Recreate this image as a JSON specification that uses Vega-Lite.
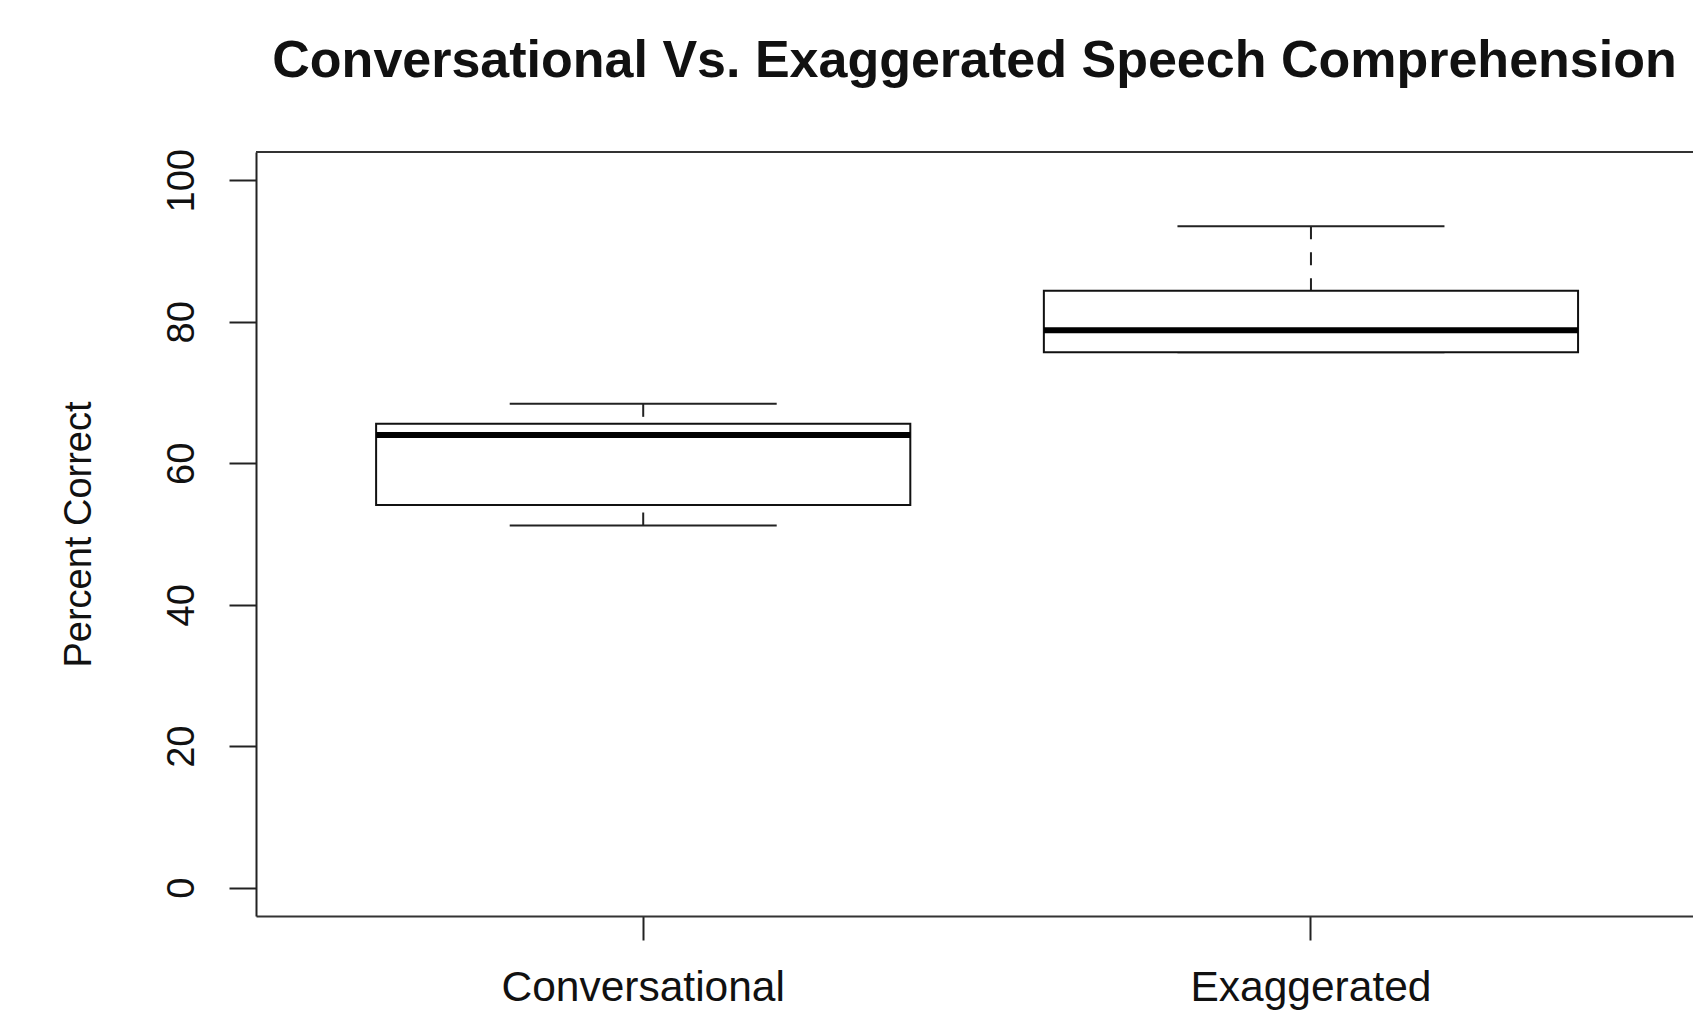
{
  "$schema": "https://vega.github.io/schema/vega-lite/v6.json",
  "autosize": "none",
  "padding": {"left": 256, "top": 152, "right": 0, "bottom": 96},
  "width": 1437,
  "height": 764,
  "background": "white",
  "config": {
    "font": "Liberation Sans",
    "view": {"stroke": null},
    "axis": {"labelFont": "Liberation Sans", "titleFont": "Liberation Sans", "labelColor": "#111", "titleColor": "#111", "grid": false}
  },
  "title": {
    "text": "Conversational Vs. Exaggerated Speech Comprehension",
    "font": "Liberation Sans",
    "fontSize": 52,
    "fontWeight": "bold",
    "color": "#111",
    "anchor": "middle",
    "baseline": "alphabetic",
    "offset": 20,
    "limit": 0
  },
  "data": {
    "values": [
      {"group": "Conversational", "lower": 51.2, "q1": 54.1, "median": 64.0, "q3": 65.6, "upper": 68.4},
      {"group": "Exaggerated", "lower": 75.7, "q1": 75.7, "median": 78.8, "q3": 84.4, "upper": 93.5}
    ]
  },
  "encoding": {
    "x": {
      "field": "group",
      "type": "nominal",
      "scale": {"domain": ["Conversational", "Exaggerated"], "paddingInner": 0.2, "paddingOuter": 0.176, "align": 0.511},
      "axis": {
        "title": null,
        "labelAngle": 0,
        "labelFontSize": 42.5,
        "labelLimit": 0,
        "labelBaseline": "alphabetic",
        "labelPadding": 60,
        "tickSize": 24,
        "tickWidth": 2,
        "tickColor": "#222",
        "domain": true,
        "domainColor": "#333",
        "domainWidth": 2
      }
    }
  },
  "layer": [
    {
      "mark": {"type": "rule", "color": "#333", "strokeWidth": 2},
      "encoding": {"x": null, "y": {"datum": 104, "type": "quantitative"}}
    },
    {
      "mark": {"type": "rule", "color": "#222", "strokeWidth": 2, "strokeDash": [13, 13]},
      "encoding": {
        "y": {
          "field": "upper",
          "type": "quantitative",
          "scale": {"domain": [-4, 104], "nice": false, "zero": false},
          "axis": {
            "values": [0, 20, 40, 60, 80, 100],
            "labelAngle": -90,
            "labelAlign": "center",
            "labelBaseline": "alphabetic",
            "labelFontSize": 38,
            "labelPadding": 36,
            "tickSize": 27,
            "tickWidth": 2,
            "tickColor": "#222",
            "domain": true,
            "domainColor": "#222",
            "domainWidth": 2,
            "title": "Percent Correct",
            "titleFontSize": 38,
            "titleFontWeight": "normal",
            "titleAngle": -90,
            "titleAlign": "center",
            "titleBaseline": "alphabetic",
            "titleX": -166,
            "titleY": 382
          }
        },
        "y2": {"field": "q3"}
      }
    },
    {
      "mark": {"type": "rule", "color": "#222", "strokeWidth": 2, "strokeDash": [13, 13]},
      "encoding": {
        "y": {"field": "lower", "type": "quantitative"},
        "y2": {"field": "q1"}
      }
    },
    {
      "mark": {"type": "tick", "color": "#222", "opacity": 1, "size": 267, "thickness": 2},
      "encoding": {"y": {"field": "upper", "type": "quantitative"}}
    },
    {
      "mark": {"type": "tick", "color": "#222", "opacity": 1, "size": 267, "thickness": 2},
      "encoding": {"y": {"field": "lower", "type": "quantitative"}}
    },
    {
      "mark": {"type": "bar", "fill": "white", "stroke": "#111", "strokeWidth": 2},
      "encoding": {
        "y": {"field": "q1", "type": "quantitative"},
        "y2": {"field": "q3"}
      }
    },
    {
      "mark": {"type": "tick", "color": "#000", "opacity": 1, "size": 534, "thickness": 6},
      "encoding": {"y": {"field": "median", "type": "quantitative"}}
    }
  ]
}
